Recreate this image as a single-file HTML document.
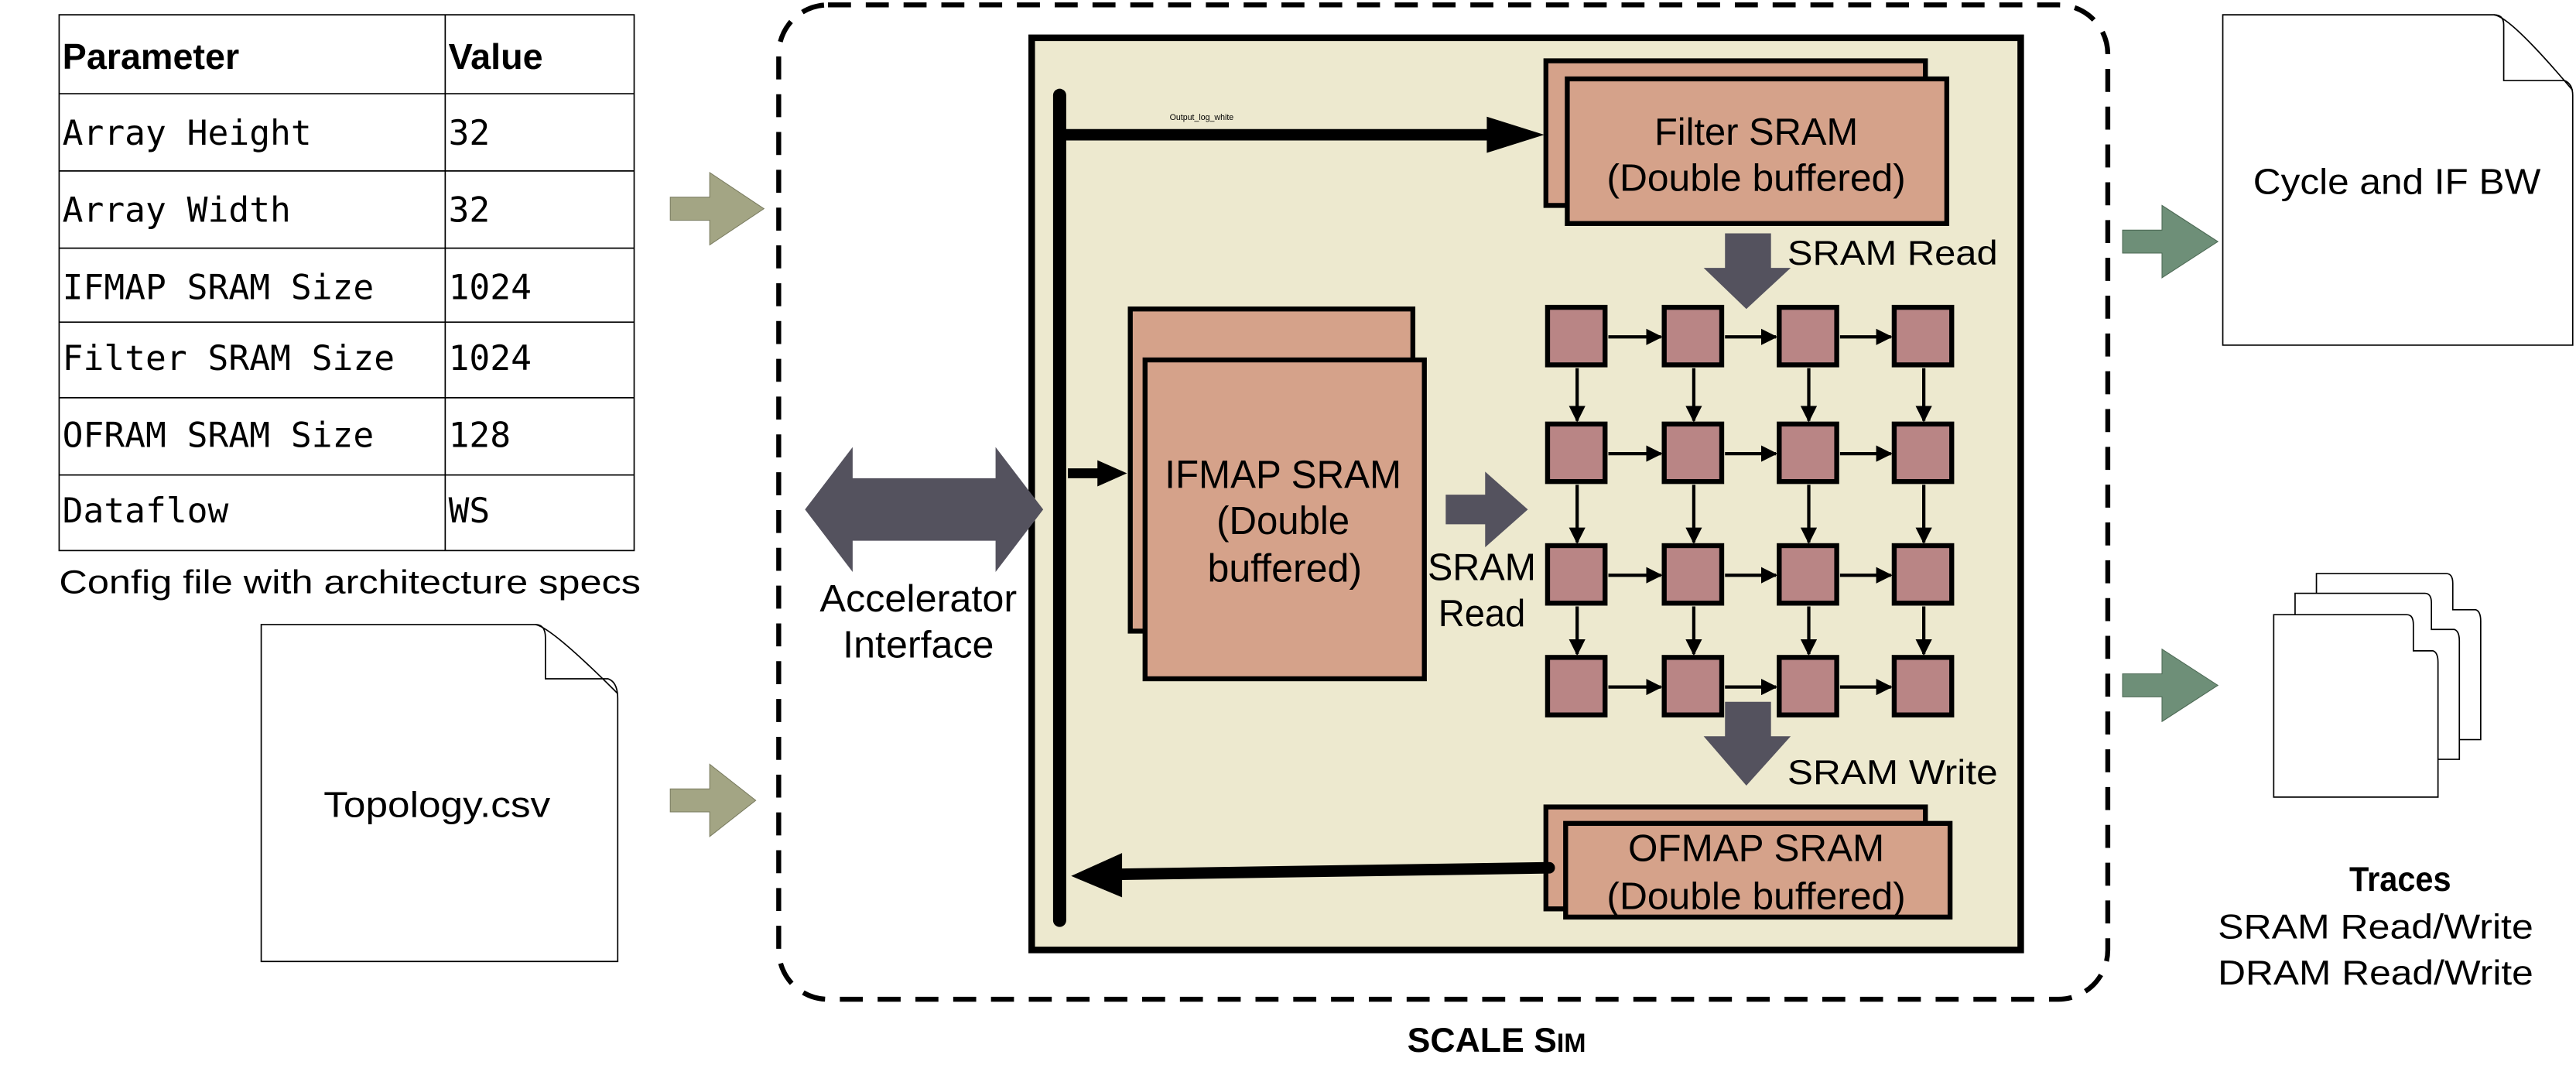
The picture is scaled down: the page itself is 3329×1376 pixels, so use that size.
<!DOCTYPE html>
<html><head><meta charset="utf-8"><style>
html,body{margin:0;padding:0;background:#fff;}
svg{display:block;}
text{font-family:"Liberation Sans",Arial,sans-serif;}
.mono{font-family:"DejaVu Sans Mono","Liberation Mono",monospace;}
</style></head><body>
<svg width="3329" height="1376" viewBox="0 0 1568 648" preserveAspectRatio="none" xmlns="http://www.w3.org/2000/svg">
<defs>
<marker id="ah" markerWidth="10" markerHeight="10" refX="9" refY="5" orient="auto" markerUnits="userSpaceOnUse"><path d="M0,0 L10,5 L0,10 z" fill="#000"/></marker>
</defs>
<g stroke="#000" stroke-width="0.8" fill="none">
<rect x="36" y="9" width="350" height="326"/>
<line x1="271" y1="9" x2="271" y2="335"/>
<line x1="36" y1="57" x2="386" y2="57"/>
<line x1="36" y1="104" x2="386" y2="104"/>
<line x1="36" y1="151" x2="386" y2="151"/>
<line x1="36" y1="196" x2="386" y2="196"/>
<line x1="36" y1="242" x2="386" y2="242"/>
<line x1="36" y1="289" x2="386" y2="289"/>
</g>
<g font-size="22">
<text x="38" y="42" font-weight="bold">Parameter</text>
<text x="273" y="42" font-weight="bold">Value</text>
</g>
<g font-size="21">
<text x="38" y="88" class="mono">Array Height</text><text x="273" y="88" class="mono">32</text>
<text x="38" y="135" class="mono">Array Width</text><text x="273" y="135" class="mono">32</text>
<text x="38" y="182" class="mono">IFMAP SRAM Size</text><text x="273" y="182" class="mono">1024</text>
<text x="38" y="225" class="mono">Filter SRAM Size</text><text x="273" y="225" class="mono">1024</text>
<text x="38" y="272" class="mono">OFRAM SRAM Size</text><text x="273" y="272" class="mono">128</text>
<text x="38" y="318" class="mono">Dataflow</text><text x="273" y="318" class="mono">WS</text>
</g>
<text x="36" y="361" font-size="20" textLength="354" lengthAdjust="spacingAndGlyphs">Config file with architecture specs</text>
<path d="M159,380 L326,380 Q332,380 332,388 L332,413 L370,413 Q376,415 376,425 L376,585 L159,585 Z" fill="#fff" stroke="#000" stroke-width="0.8"/>
<path d="M326,380 Q336,382 376,422" fill="none" stroke="#000" stroke-width="0.8"/>
<text x="266" y="497" font-size="22" text-anchor="middle" textLength="138" lengthAdjust="spacingAndGlyphs">Topology.csv</text>
<path d="M408,120 L432,120 L432,105 L465,127 L432,149 L432,134 L408,134 Z" fill="#a3a584" stroke="#7a7c60" stroke-width="0.5"/>
<path d="M408,480 L432,480 L432,465 L460,487 L432,509 L432,494 L408,494 Z" fill="#a3a584" stroke="#7a7c60" stroke-width="0.5"/>
<rect x="474" y="3" width="809" height="605" rx="30" fill="none" stroke="#000" stroke-width="3" stroke-dasharray="14,9"/>
<rect x="628" y="23" width="602" height="555" fill="#ede9cf" stroke="#000" stroke-width="4"/>
<line x1="645" y1="58" x2="645" y2="560" stroke="#000" stroke-width="8" stroke-linecap="round"/>
<line x1="645" y1="82" x2="910" y2="82" stroke="#000" stroke-width="7"/>
<path d="M905,71 L940,82 L905,93 Z" fill="#000"/>
<text x="712" y="73" font-size="5">Output_log_white</text>
<rect x="941" y="37" width="231" height="88" fill="#d5a28a" stroke="#000" stroke-width="3"/>
<rect x="954" y="48" width="231" height="88" fill="#d5a28a" stroke="#000" stroke-width="3"/>
<text x="1069" y="88" font-size="23" text-anchor="middle" textLength="124" lengthAdjust="spacingAndGlyphs">Filter SRAM</text>
<text x="1069" y="116" font-size="23" text-anchor="middle" textLength="182" lengthAdjust="spacingAndGlyphs">(Double buffered)</text>
<path d="M1050,142 L1078,142 L1078,163 L1090,163 L1063,188 L1037,163 L1050,163 Z" fill="#54525e"/>
<text x="1088" y="161" font-size="21" textLength="128" lengthAdjust="spacingAndGlyphs">SRAM Read</text>
<rect x="688" y="188" width="172" height="196" fill="#d5a28a" stroke="#000" stroke-width="3"/>
<rect x="697" y="219" width="170" height="194" fill="#d5a28a" stroke="#000" stroke-width="3"/>
<text x="781" y="297" font-size="24" text-anchor="middle" textLength="144" lengthAdjust="spacingAndGlyphs">IFMAP SRAM</text>
<text x="781" y="325" font-size="24" text-anchor="middle" textLength="81" lengthAdjust="spacingAndGlyphs">(Double</text>
<text x="782" y="354" font-size="24" text-anchor="middle" textLength="94" lengthAdjust="spacingAndGlyphs">buffered)</text>
<line x1="650" y1="288" x2="672" y2="288" stroke="#000" stroke-width="6"/>
<path d="M668,280 L686,288 L668,296 Z" fill="#000"/>
<path d="M880,301 L904,301 L904,287 L930,310 L904,333 L904,319 L880,319 Z" fill="#54525e"/>
<text x="902" y="353" font-size="23" text-anchor="middle" textLength="66" lengthAdjust="spacingAndGlyphs">SRAM</text>
<text x="902" y="381" font-size="23" text-anchor="middle" textLength="53" lengthAdjust="spacingAndGlyphs">Read</text>
<g fill="#b98585" stroke="#000" stroke-width="3">
<rect x="942" y="187" width="35" height="35"/><rect x="1013" y="187" width="35" height="35"/><rect x="1083" y="187" width="35" height="35"/><rect x="1153" y="187" width="35" height="35"/>
<rect x="942" y="258" width="35" height="35"/><rect x="1013" y="258" width="35" height="35"/><rect x="1083" y="258" width="35" height="35"/><rect x="1153" y="258" width="35" height="35"/>
<rect x="942" y="332" width="35" height="35"/><rect x="1013" y="332" width="35" height="35"/><rect x="1083" y="332" width="35" height="35"/><rect x="1153" y="332" width="35" height="35"/>
<rect x="942" y="400" width="35" height="35"/><rect x="1013" y="400" width="35" height="35"/><rect x="1083" y="400" width="35" height="35"/><rect x="1153" y="400" width="35" height="35"/>
</g>
<g stroke="#000" stroke-width="2" marker-end="url(#ah)">
<line x1="979" y1="205" x2="1011" y2="205"/><line x1="1050" y1="205" x2="1081" y2="205"/><line x1="1120" y1="205" x2="1151" y2="205"/>
<line x1="979" y1="276" x2="1011" y2="276"/><line x1="1050" y1="276" x2="1081" y2="276"/><line x1="1120" y1="276" x2="1151" y2="276"/>
<line x1="979" y1="350" x2="1011" y2="350"/><line x1="1050" y1="350" x2="1081" y2="350"/><line x1="1120" y1="350" x2="1151" y2="350"/>
<line x1="979" y1="418" x2="1011" y2="418"/><line x1="1050" y1="418" x2="1081" y2="418"/><line x1="1120" y1="418" x2="1151" y2="418"/>
<line x1="960" y1="224" x2="960" y2="256"/><line x1="1031" y1="224" x2="1031" y2="256"/><line x1="1101" y1="224" x2="1101" y2="256"/><line x1="1171" y1="224" x2="1171" y2="256"/>
<line x1="960" y1="295" x2="960" y2="330"/><line x1="1031" y1="295" x2="1031" y2="330"/><line x1="1101" y1="295" x2="1101" y2="330"/><line x1="1171" y1="295" x2="1171" y2="330"/>
<line x1="960" y1="369" x2="960" y2="398"/><line x1="1031" y1="369" x2="1031" y2="398"/><line x1="1101" y1="369" x2="1101" y2="398"/><line x1="1171" y1="369" x2="1171" y2="398"/>
</g>
<path d="M1050,427 L1078,427 L1078,448 L1090,448 L1063,478 L1037,448 L1050,448 Z" fill="#54525e"/>
<text x="1088" y="477" font-size="21" textLength="128" lengthAdjust="spacingAndGlyphs">SRAM Write</text>
<rect x="941" y="491" width="231" height="62" fill="#d5a28a" stroke="#000" stroke-width="3"/>
<rect x="953" y="501" width="234" height="57" fill="#d5a28a" stroke="#000" stroke-width="3"/>
<text x="1069" y="524" font-size="23" text-anchor="middle" textLength="156" lengthAdjust="spacingAndGlyphs">OFMAP SRAM</text>
<text x="1069" y="553" font-size="23" text-anchor="middle" textLength="182" lengthAdjust="spacingAndGlyphs">(Double buffered)</text>
<line x1="943" y1="528" x2="678" y2="532" stroke="#000" stroke-width="7" stroke-linecap="round"/>
<path d="M683,519 L652,533 L683,546 Z" fill="#000"/>
<path d="M490,310 L519,272 L519,291 L606,291 L606,272 L635,310 L606,348 L606,329 L519,329 L519,348 Z" fill="#54525e"/>
<text x="559" y="372" font-size="23" text-anchor="middle" textLength="120" lengthAdjust="spacingAndGlyphs">Accelerator</text>
<text x="559" y="400" font-size="23" text-anchor="middle" textLength="92" lengthAdjust="spacingAndGlyphs">Interface</text>
<text x="911" y="640" font-size="21" font-weight="bold" text-anchor="middle">SCALE S<tspan font-size="16">IM</tspan></text>
<path d="M1353,9 L1518,9 Q1524,9 1524,15 L1524,49 L1561,49 Q1566,51 1566,58 L1566,210 L1353,210 Z" fill="#fff" stroke="#000" stroke-width="0.8"/>
<path d="M1518,9 Q1528,10 1566,55" fill="none" stroke="#000" stroke-width="0.8"/>
<text x="1459" y="118" font-size="22" text-anchor="middle" textLength="175" lengthAdjust="spacingAndGlyphs">Cycle and IF BW</text>
<path d="M1292,140 L1316,140 L1316,125 L1350,147 L1316,169 L1316,154 L1292,154 Z" fill="#6e8f78" stroke="#4d6a55" stroke-width="0.5"/>
<path d="M1292,410 L1316,410 L1316,395 L1350,417 L1316,439 L1316,424 L1292,424 Z" fill="#6e8f78" stroke="#4d6a55" stroke-width="0.5"/>
<g fill="#fff" stroke="#000" stroke-width="0.8">
<path d="M1410,349 L1489,349 Q1493,349 1493,355 L1493,371 L1507,371 Q1510,372 1510,378 L1510,450 L1410,450 Z"/>
<path d="M1397,361 L1476,361 Q1480,361 1480,367 L1480,383 L1494,383 Q1497,384 1497,390 L1497,462 L1397,462 Z"/>
<path d="M1384,374 L1465,374 Q1469,374 1469,380 L1469,396 L1481,396 Q1484,397 1484,403 L1484,485 L1384,485 Z"/>
</g>
<text x="1461" y="542" font-size="21" font-weight="bold" text-anchor="middle" textLength="62" lengthAdjust="spacingAndGlyphs">Traces</text>
<text x="1446" y="571" font-size="21" text-anchor="middle" textLength="192" lengthAdjust="spacingAndGlyphs">SRAM Read/Write</text>
<text x="1446" y="599" font-size="21" text-anchor="middle" textLength="192" lengthAdjust="spacingAndGlyphs">DRAM Read/Write</text>
</svg>
</body></html>
